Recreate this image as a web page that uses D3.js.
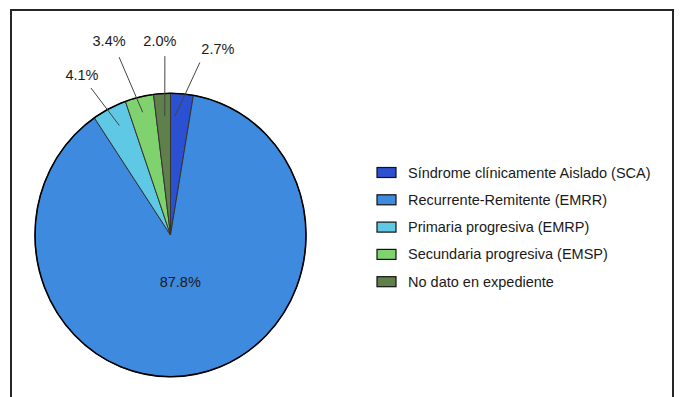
<!DOCTYPE html>
<html><head><meta charset="utf-8">
<script src="https://cdn.jsdelivr.net/npm/d3@7"></script>
<style>html,body{margin:0;padding:0;background:#fff}svg{display:block}</style>
</head><body>
<svg id="c" width="681" height="397"></svg>
<script>
const categories = ["Síndrome clínicamente Aislado (SCA)","Recurrente-Remitente (EMRR)","Primaria progresiva (EMRP)","Secundaria progresiva (EMSP)","No dato en expediente"];
const values = [2.7, 87.8, 4.1, 3.4, 2.0];
const labels = ["2.7%","87.8%","4.1%","3.4%","2.0%"];
const colors = ["#2c50d2","#3e8ade","#5fc8e5","#7fd26e","#5f7f4b"];
// label layout: inner/outer angle shifts (deg) from slice mid-angle, distance factors, text offset; null = inside label
const labelLayout = [
  {ishift:-2.6, ifac:0.84, shift:4.8, dist:1.235, tdx:18, tdy:-14},
  null,
  {ishift:0.8, ifac:0.86, shift:-1.6, dist:1.18, tdx:-9, tdy:-13.5},
  {ishift:0, ifac:0.89, shift:-2.8, dist:1.307, tdx:-10, tdy:-16},
  {ishift:0.7, ifac:0.84, shift:1.8, dist:1.263, tdx:-5, tdy:-15}
];

const svg = d3.select("#c");
const H = 397;
const FONT = "Liberation Sans, Arial, Helvetica, sans-serif";
svg.append("rect").attr("x",11).attr("y",10).attr("width",662).attr("height",H)
  .attr("fill","#fff").attr("stroke","#262626").attr("stroke-width",2);

const cx = 170.5, cy = 235, rx = 135.5, ry = 141.7;
const sy = ry/rx;
const pie = d3.pie().sort(null).value(d=>d)(values);
const arc = d3.arc().innerRadius(0).outerRadius(rx);
const g = svg.append("g").attr("transform",`translate(${cx},${cy}) scale(1,${sy})`);
g.selectAll("path.s").data(pie).join("path").attr("class","s")
  .attr("d",arc).attr("fill",(d,i)=>colors[i])
  .attr("stroke","#333").attr("stroke-width",1).attr("vector-effect","non-scaling-stroke");
g.append("ellipse").attr("rx",rx).attr("ry",rx).attr("fill","none")
  .attr("stroke","#000").attr("stroke-width",1.6).attr("vector-effect","non-scaling-stroke");

function pt(angle, f){ return [cx + f*rx*Math.sin(angle), cy - f*ry*Math.cos(angle)]; }

const lg = svg.append("g");
pie.forEach((d,i)=>{
  const mid = (d.startAngle+d.endAngle)/2;
  const L = labelLayout[i];
  if(!L){
    const p = pt(mid, 0.34);
    lg.append("text").attr("x",p[0]).attr("y",p[1]).attr("text-anchor","middle").attr("dy","0.35em")
      .attr("font-family",FONT).attr("font-size",14.5).attr("fill","#1a1a1a").text(labels[i]);
    return;
  }
  const pin = pt(mid + L.ishift*Math.PI/180, L.ifac);
  const a2 = mid + L.shift*Math.PI/180;
  const pout = [cx + L.dist*ry*Math.sin(a2), cy - L.dist*ry*Math.cos(a2)];
  lg.append("line").attr("x1",pin[0]).attr("y1",pin[1]).attr("x2",pout[0]).attr("y2",pout[1])
    .attr("stroke","#444").attr("stroke-width",1);
  lg.append("text").attr("x",pout[0]+L.tdx).attr("y",pout[1]+L.tdy).attr("text-anchor","middle").attr("dy","0.35em")
    .attr("font-family",FONT).attr("font-size",14.5).attr("fill","#1a1a1a").text(labels[i]);
});

const leg = svg.append("g");
const ly = d3.scalePoint().domain(categories).range([172.5, 281.7]);
categories.forEach((c,i)=>{
  const y = ly(c);
  leg.append("rect").attr("x",377).attr("y",y-5).attr("width",19).attr("height",10)
    .attr("fill",colors[i]).attr("stroke","#111").attr("stroke-width",1.2);
  leg.append("text").attr("x",408).attr("y",y).attr("dy","0.35em")
    .attr("font-family",FONT).attr("font-size",14.5).attr("fill","#1a1a1a").text(c);
});
</script>
</body></html>
